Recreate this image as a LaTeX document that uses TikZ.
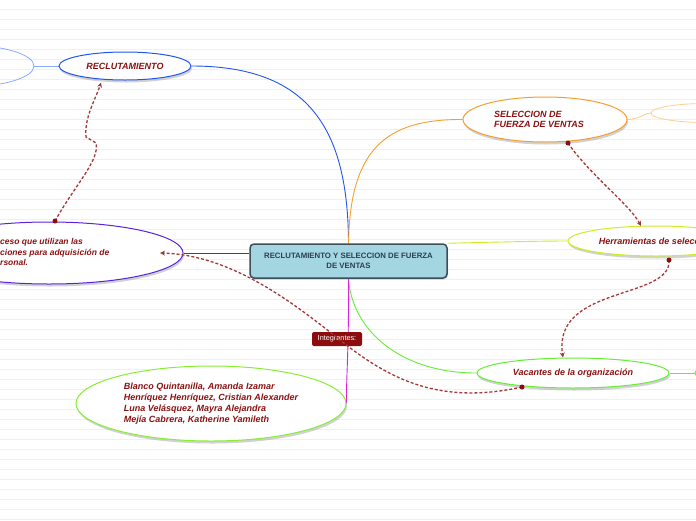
\documentclass[tikz,border=0pt]{standalone}
\usepackage{fontspec}
\setmainfont{Liberation Sans}
\usetikzlibrary{shapes.geometric,shadows,arrows.meta}
\definecolor{txtred}{HTML}{8B1212}
\definecolor{dashred}{HTML}{A33A3A}
\definecolor{dotred}{HTML}{8B0D0D}
\definecolor{bgline}{HTML}{F0F0F0}
\definecolor{cblue}{HTML}{2255EE}
\definecolor{lblue}{HTML}{88AAFF}
\definecolor{cpurple}{HTML}{5A22DD}
\definecolor{cpline}{HTML}{4433BB}
\definecolor{corange}{HTML}{F2A030}
\definecolor{lorange}{HTML}{FFCF90}
\definecolor{cyellow}{HTML}{CCEE22}
\definecolor{cgreen}{HTML}{66EE33}
\definecolor{lgreen}{HTML}{88EE33}
\definecolor{cmag}{HTML}{DD22DD}
\definecolor{cfill}{HTML}{A4D6E2}
\definecolor{cborder}{HTML}{3D4D5A}
\definecolor{ctext}{HTML}{2C3E50}
\pgfdeclarelayer{bgl}
\pgfdeclarelayer{edges}
\pgfsetlayers{bgl,edges,main}
\tikzset{
  topic/.style={ellipse, draw, fill=white, line width=1pt, inner sep=0pt,
    text=txtred, font=\fontsize{9}{10.5}\selectfont\bfseries\itshape,
    drop shadow={shadow xshift=1pt, shadow yshift=-2.5pt, opacity=0.35, fill=gray}},
  conn/.style={line width=0.9pt},
  rel/.style={dashred, line width=1.3pt, dash pattern=on 3pt off 2pt, -{Stealth[length=5pt,width=5pt]}},
  reldot/.style={circle, fill=dotred, inner sep=0pt, minimum size=5pt},
}
\begin{document}
\begin{tikzpicture}[x=1pt,y=-1pt]
\useasboundingbox (0,0) rectangle (696,520);
\clip (0,0) rectangle (696,520);
\begin{pgfonlayer}{bgl}
\fill[white] (0,0) rectangle (696,520);
\foreach \i in {0,...,51} \draw[bgline, line width=0.6pt] (0,9.5+10*\i) -- (696,9.5+10*\i);
\end{pgfonlayer}

% central node
\node[rounded corners=4pt, fill=cfill, draw=cborder, line width=1.5pt, minimum width=197pt, minimum height=34pt,
  align=center, text=ctext, font=\fontsize{7.8}{10}\selectfont\bfseries,
  drop shadow={shadow xshift=1pt, shadow yshift=-1.5pt, opacity=0.3, fill=gray}]
  (center) at (348.5,261) {RECLUTAMIENTO Y SELECCION DE FUERZA\\DE VENTAS};

% topics
\node[topic, draw=cblue, minimum width=132pt, minimum height=28pt] (recl) at (125,66) {RECLUTAMIENTO};
\node[ellipse, draw=lblue, line width=0.8pt, minimum width=140pt, minimum height=42pt] (leftell) at (-36,66) {};
\node[topic, draw=cpurple, minimum width=268pt, minimum height=62pt] (purp) at (49,253) {};
\node[anchor=west, inner sep=0pt, align=left, text=txtred,
  font=\fontsize{8.5}{10.5}\selectfont\bfseries\itshape] (purptext) at (0,253)
  {\llap{Pro}ceso que utilizan las\\\llap{organiza}ciones para adquisición de\\\llap{pe}rsonal.};
\node[topic, draw=corange, minimum width=164pt, minimum height=45pt, align=left] (selec) at (545,119.5)
  {SELECCION DE\\FUERZA DE VENTAS\hspace*{12pt}};
\node[ellipse, draw=lorange, line width=0.8pt, minimum width=110pt, minimum height=19pt] (rightor) at (706,113) {};
\node[topic, draw=cyellow, minimum width=176pt, minimum height=30pt] (herr) at (656,241) {Herramientas de selección};
\node[topic, draw=cgreen, minimum width=192pt, minimum height=30pt] (vac) at (573,373) {Vacantes de la organización};
\node[ellipse, draw=cgreen, line width=0.8pt, minimum width=40pt, minimum height=18pt] (rightgr) at (715,373) {};
\node[topic, draw=lgreen, minimum width=270pt, minimum height=75pt, align=left,
  font=\fontsize{9}{11}\selectfont\bfseries\itshape] (names) at (211,403.5)
  {Blanco Quintanilla, Amanda Izamar\\Henríquez Henríquez, Cristian Alexander\\Luna Velásquez, Mayra Alejandra\\Mejía Cabrera, Katherine Yamileth};

\node[fill=dotred, rounded corners=2pt, minimum width=50pt, minimum height=14pt, inner sep=0pt,
  text=white, font=\fontsize{7.3}{8}\selectfont] (integ) at (337,339) {Integrantes:};

% connectors
\begin{pgfonlayer}{edges}
\draw[conn, cblue] (recl.east) .. controls (310,66) and (348,130) .. (center.north);
\draw[conn, lblue, line width=0.7pt] (leftell.east) -- (recl.west);
\draw[conn, cpline] (purp.east) -- (purp.east -| center.west);
\draw[conn, corange] (center.north) .. controls (350,150) and (385,119) .. (selec.west);
\draw[conn, lorange] (selec.east) .. controls (640,119) and (645,113) .. (rightor.west);
\draw[conn, cyellow] (center.north east) .. controls (500,242) and (540,241) .. (herr.west);
\draw[conn, cgreen] (center.south) .. controls (352,330) and (400,373) .. (vac.west);
\draw[conn, cgreen] (vac.east) -- (rightgr.west);
\draw[conn, cmag] (center.south) .. controls (349,350) and (346,380) .. (names.east);
\end{pgfonlayer}

% relation arrows
\coordinate (r1s) at (55,221);
\coordinate (r1m) at (96,143);
\coordinate (r1n) at (86,137);
\coordinate (r1e) at (101,82.5);
\draw[rel] (r1s) .. controls (75,185) and (100,160) .. (r1m) -- (r1n) .. controls (84,118) and (96,98) .. (r1e);
\node[reldot] (d1) at (r1s) {};

\coordinate (r2s) at (568,143);
\coordinate (r2e) at (641,226);
\draw[rel] (r2s) .. controls (590,175) and (630,205) .. (r2e);
\node[reldot] (d2) at (r2s) {};

\coordinate (r3s) at (669,260);
\coordinate (r3e) at (563,357.5);
\draw[rel] (r3s) .. controls (672,300) and (552,285) .. (r3e);
\node[reldot] (d3) at (r3s) {};

\coordinate (r4s) at (522,387);
\coordinate (r4m) at (340,340);
\coordinate (r4e) at (160,253);
\draw[rel] (r4s) .. controls (440,405) and (390,380) .. (r4m) .. controls (290,300) and (230,255) .. (r4e);
\node[reldot] (d4) at (r4s) {};
\end{tikzpicture}
\end{document}
